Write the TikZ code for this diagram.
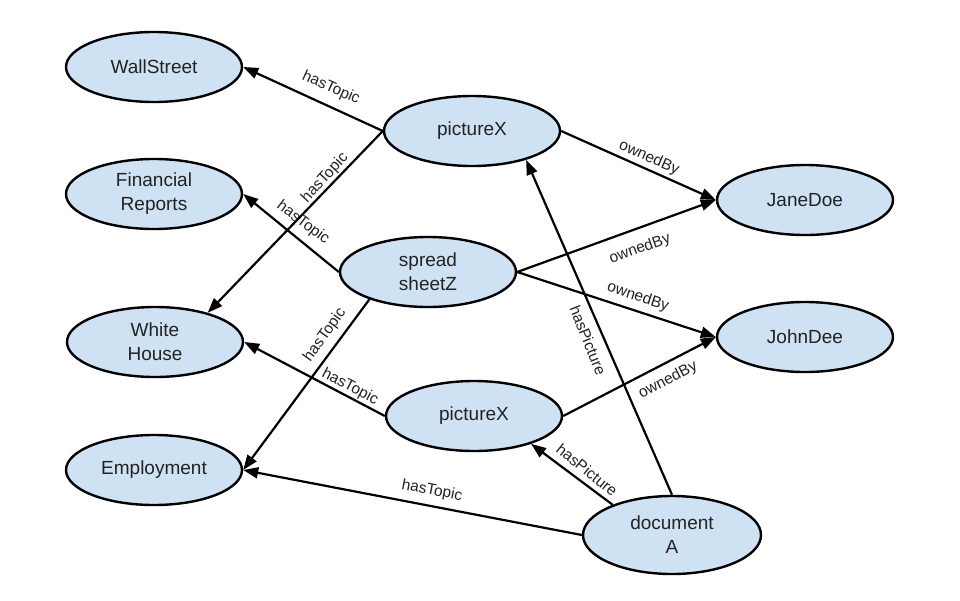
\documentclass[tikz,border=0pt]{standalone}
\usepackage{fontspec}
\setmainfont{Liberation Sans}
\usetikzlibrary{shapes.geometric,arrows.meta}
\definecolor{nodefill}{HTML}{CFE2F3}
\definecolor{txt}{HTML}{222222}
\begin{document}
\begin{tikzpicture}[x=1pt,y=-1pt,
  ent/.style={ellipse, draw=black, line width=2.4pt, fill=nodefill, minimum width=176pt, minimum height=70pt, inner sep=0pt, align=center, text=txt, font=\fontsize{19}{24}\selectfont},
  rel/.style={-{Triangle[length=15pt,width=11pt]}, line width=2.2pt},
  lbl/.style={font=\fontsize{15.5}{18}\selectfont, text=txt, inner sep=1pt}]
\useasboundingbox (0,0) rectangle (960,600);
% entities
\node[ent] (ws) at (154,67) {WallStreet};
\node[ent] (fr) at (154,194) {Financial\\Reports};
\node[ent] (wh) at (155,342) {White\\House};
\node[ent] (em) at (154,470) {Employment};
\node[ent] (px1) at (472,131) {pictureX};
\node[ent] (sp) at (428,272) {spread\\sheetZ};
\node[ent] (px2) at (474,416) {pictureX};
\node[ent] (jane) at (805,200) {JaneDoe};
\node[ent] (john) at (805,337) {JohnDee};
\node[ent, minimum width=178pt, minimum height=78pt] (doc) at (672,535) {document\\A};
% relations
\draw[rel] (px1.west) -- (ws.east);
\draw[rel] (px1.west) -- (wh.29);
\draw[rel] (sp.west) -- (fr.east);
\draw[rel] (sp.205) -- (em.east);
\draw[rel] (px2.west) -- (wh.east);
\draw[rel] (px1.east) -- (jane.west);
\draw[rel] (sp.east) -- (jane.west);
\draw[rel] (sp.east) -- (john.west);
\draw[rel] (px2.east) -- (john.west);
\draw[rel] (doc.north) -- (px1.-28);
\draw[rel] (doc.153) -- (px2.-26);
\draw[rel] (doc.west) -- (em.east);
% labels
\node[lbl, rotate=-24] (l1) at (331,88) {hasTopic};
\node[lbl, rotate=47.5] (l2) at (325,178) {hasTopic};
\node[lbl, rotate=-37] (l3) at (303,223) {hasTopic};
\node[lbl, rotate=54.4] (l4) at (325,335) {hasTopic};
\node[lbl, rotate=-27.5] (l5) at (350,387) {hasTopic};
\node[lbl, rotate=-10.7] (l6) at (432,491) {hasTopic};
\node[lbl, rotate=-23.5] (l7) at (649,158) {ownedBy};
\node[lbl, rotate=19.8] (l8) at (640,249) {ownedBy};
\node[lbl, rotate=-18] (l9) at (638,297) {ownedBy};
\node[lbl, rotate=27.3] (l10) at (668,380) {ownedBy};
\node[lbl, rotate=-68.2] (l11) at (588,340) {hasPicture};
\node[lbl, rotate=-39] (l12) at (587,470) {hasPicture};
\end{tikzpicture}
\end{document}
